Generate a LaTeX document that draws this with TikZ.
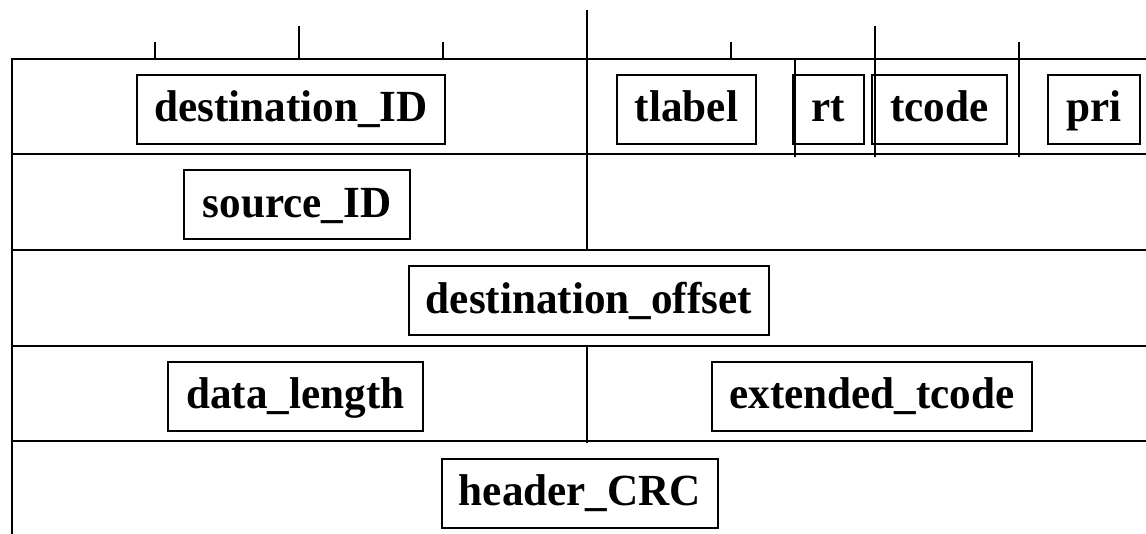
\documentclass[tikz,border=0pt]{standalone}
\usepackage{fontspec}
\setmainfont[FakeStretch=0.97]{Liberation Serif}
\begin{document}
\begin{tikzpicture}[x=1pt,y=-1pt,
  rule/.style={line width=2pt,line cap=butt},
  field/.style={draw,line width=2pt,inner sep=0pt,
    text height=47pt,text depth=22pt,
    font=\fontsize{44.5}{50}\selectfont\bfseries}]
\useasboundingbox (0,0) rectangle (1146,534);

% row boundaries of the header quadlets
\foreach \y in {59,154,250,346,441}
  \draw[rule] (12,\y) -- (1146,\y);
\draw[rule] (12,58) -- (12,534);

% half-quadlet divider
\draw[rule] (587,10) -- (587,250);
\draw[rule] (587,346) -- (587,443);

% bit ticks along the top
\draw[rule] (155,42) -- (155,59);
\draw[rule] (299,26) -- (299,59);
\draw[rule] (443,42) -- (443,59);
\draw[rule] (731,42) -- (731,59);
\draw[rule] (875,26) -- (875,157);
\draw[rule] (1019,42) -- (1019,157);
\draw[rule] (795,59) -- (795,157);

% field labels
\node[field,minimum width=308pt] (dest) at (291,109.5) {destination\_ID};
\node[field,minimum width=139pt] (tlabel) at (686.5,109.5) {tlabel};
\node[field,minimum width=71pt] (rt) at (828.5,109.5) {rt};
\node[field,minimum width=135pt] (tcode) at (939.5,109.5) {tcode};
\node[field,minimum width=92pt] (pri) at (1094,109.5) {pri};
\node[field,minimum width=226pt] (src) at (297,205) {source\_ID};
\node[field,minimum width=360pt] (off) at (589,301) {destination\_offset};
\node[field,minimum width=255pt] (len) at (295.5,396.5) {data\_length};
\node[field,minimum width=320pt] (ext) at (872,396.5) {extended\_tcode};
\node[field,minimum width=276pt] (crc) at (580,493) {header\_CRC};
\end{tikzpicture}
\end{document}
